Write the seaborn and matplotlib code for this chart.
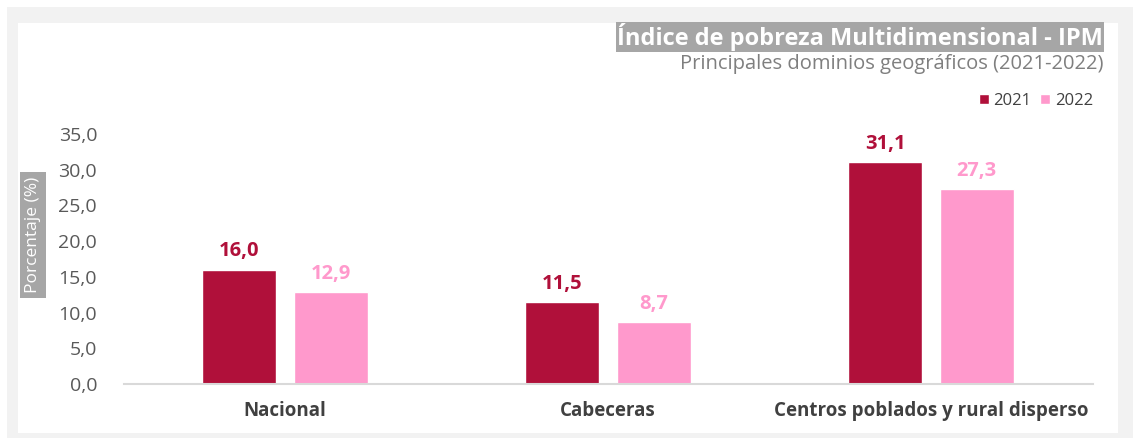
import pandas as pd
import seaborn as sns
import matplotlib.pyplot as plt
from matplotlib.patches import Rectangle

# data
dominios = ["Nacional", "Cabeceras", "Centros poblados y rural disperso"]
ipm_2021 = [16.0, 11.5, 31.1]
ipm_2022 = [12.9, 8.7, 27.3]
years = ["2021", "2022"]
yticks = [0, 5, 10, 15, 20, 25, 30, 35]

colors = {"2021": "#B0103A", "2022": "#FF99CC"}

df = pd.DataFrame({
    "dominio": dominios * 2,
    "year": [years[0]] * 3 + [years[1]] * 3,
    "valor": ipm_2021 + ipm_2022,
})

sns.set_theme(style="white")
plt.rcParams["font.family"] = ["Open Sans", "DejaVu Sans"]

fig = plt.figure(figsize=(11.33, 4.38), dpi=100)
W, H = 1133, 438

# frame: gray band around a white panel
fig.patches.append(Rectangle((7 / W, 0), 1 - 7 / W, 1 - 7 / H, transform=fig.transFigure,
                             facecolor="#f2f2f2", edgecolor="none", zorder=-2))
fig.patches.append(Rectangle((18 / W, 5 / H), 1100 / W, (433 - 23) / H, transform=fig.transFigure,
                             facecolor="white", edgecolor="none", zorder=-1))

ax = fig.add_axes([123.5 / W, 1 - 384 / H, (1092.5 - 123.5) / W, 250 / H])
ax.patch.set_alpha(0)

sns.barplot(data=df, x="dominio", y="valor", hue="year", palette=colors,
            width=0.565, gap=0.19, saturation=1, ax=ax, legend=False)

ax.set_ylim(0, 35)
ax.set_xlim(-0.5, 2.5)
ax.set_yticks(yticks)
ax.set_yticklabels([f"{v:.1f}".replace(".", ",") for v in yticks],
                   fontsize=14, color="#595959")
ax.set_xticklabels(dominios, fontsize=13.5, fontweight="bold", color="#404040")
ax.tick_params(axis="x", pad=12, length=0)
ax.tick_params(axis="y", pad=19, length=0)
ax.set_xlabel("")
ax.set_ylabel("")
for s in ["top", "right", "left"]:
    ax.spines[s].set_visible(False)
ax.spines["bottom"].set_color("#d9d9d9")
ax.spines["bottom"].set_linewidth(1.5)

# value labels
for cont, yr in zip(ax.containers, years):
    ax.bar_label(cont, labels=[f"{v:.1f}".replace(".", ",") for v in cont.datavalues],
                 padding=6, fontsize=14.5, fontweight="bold", color=colors[yr])

# titles
fig.text(1103 / W, 1 - 37 / H, "Índice de pobreza Multidimensional - IPM",
         ha="right", va="center", fontsize=17, fontweight="bold", color="white",
         bbox=dict(boxstyle="square,pad=0.06", facecolor="#a6a6a6", edgecolor="none"))
fig.text(1103 / W, 1 - 64 / H, "Principales dominios geográficos (2021-2022)",
         ha="right", va="center", fontsize=14.5, color="#7f7f7f")

# legend
handles = [Rectangle((0, 0), 1, 1, facecolor=colors[y]) for y in years]
fig.legend(handles, years, loc="center right", bbox_to_anchor=(1108 / W, 1 - 101 / H),
           ncol=2, frameon=False, fontsize=12, handlelength=0.6, handleheight=0.6,
           handletextpad=0.3, columnspacing=0.5, labelcolor="#404040")

# y label
fig.text(33 / W, 1 - 235 / H, "Porcentaje (%)", rotation=90, ha="center", va="center",
         fontsize=12.5, color="white",
         bbox=dict(boxstyle="square,pad=0.3", facecolor="#a6a6a6", edgecolor="none"))

plt.savefig("out.png", dpi=100)
